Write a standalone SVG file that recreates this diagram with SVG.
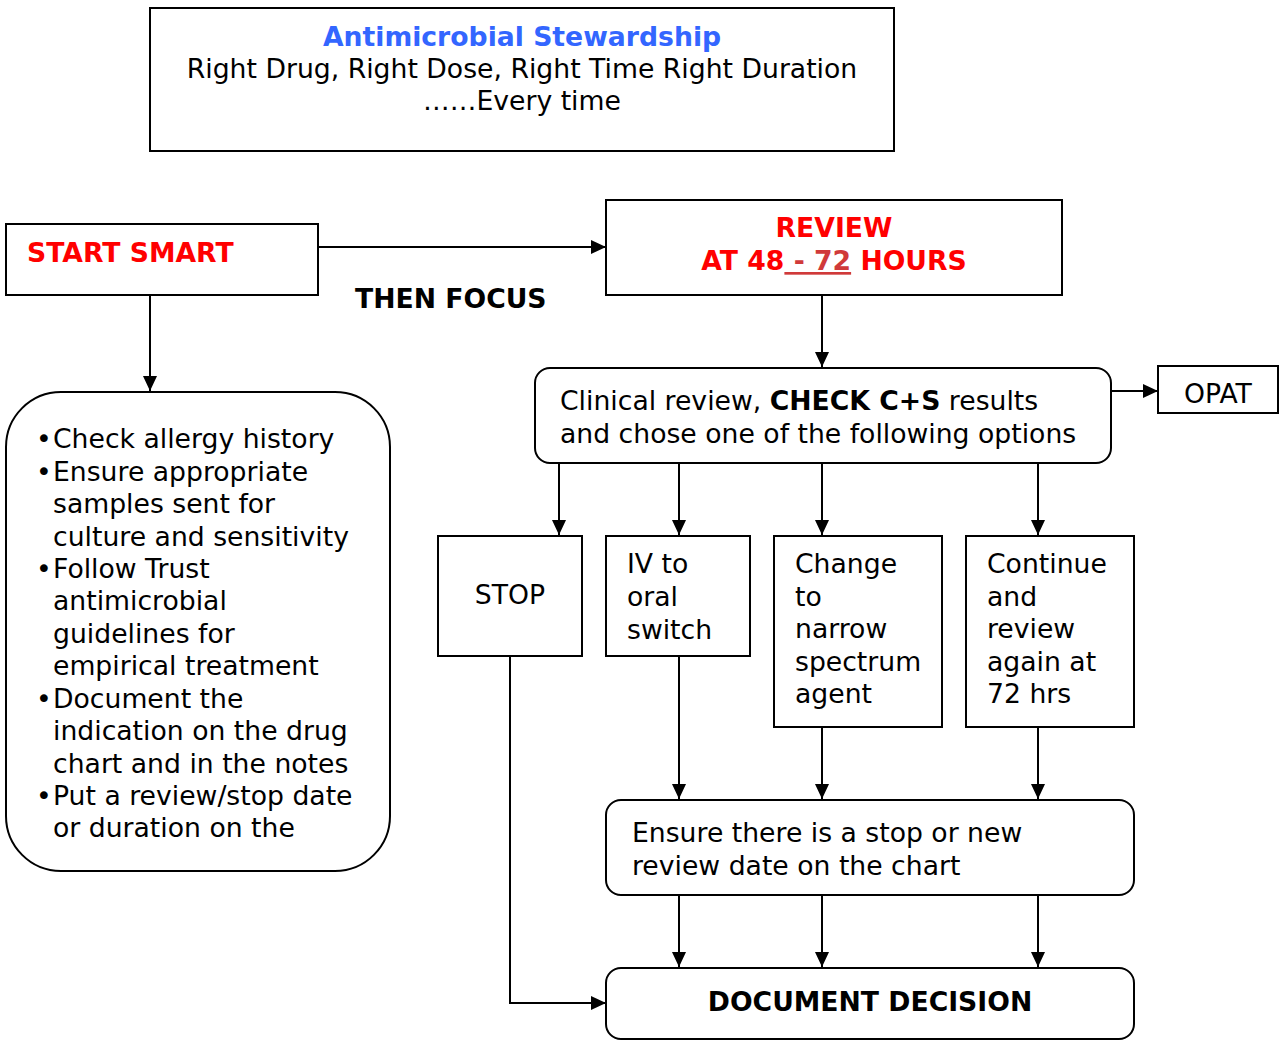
<svg xmlns="http://www.w3.org/2000/svg" width="1279" height="1041" viewBox="0 0 1279 1041">
<style>
  .box { fill: #fff; stroke: #000; stroke-width: 2; }
  .t { font-family: "DejaVu Sans", Verdana, sans-serif; font-size: 26.67px; fill: #000; }
  .b { font-weight: bold; }
  .red { fill: #ff0000; }
  .c { text-anchor: middle; }
  .conn { fill: none; stroke: #000; stroke-width: 2; marker-end: url(#arr); }
</style>
<defs>
  <marker id="arr" viewBox="0 0 15 14" refX="15" refY="7" markerWidth="15" markerHeight="14" markerUnits="userSpaceOnUse" orient="auto">
    <path d="M0,0 L15,7 L0,14 z" fill="#000"/>
  </marker>
</defs>
<rect width="1279" height="1041" fill="#fff"/>

<g id="connectors">
  <path class="conn" d="M318,247 H606"/>
  <path class="conn" d="M150,295 V391"/>
  <path class="conn" d="M822,295 V367"/>
  <path class="conn" d="M1111,391 H1158"/>
  <path class="conn" d="M559,463 V535"/>
  <path class="conn" d="M679,463 V535"/>
  <path class="conn" d="M822,463 V535"/>
  <path class="conn" d="M1038,463 V535"/>
  <path class="conn" d="M679,656 V799"/>
  <path class="conn" d="M822,727 V799"/>
  <path class="conn" d="M1038,727 V799"/>
  <path class="conn" d="M679,895 V967"/>
  <path class="conn" d="M822,895 V967"/>
  <path class="conn" d="M1038,895 V967"/>
  <path class="conn" d="M510,656 V1003 H606"/>
</g>

<g id="title">
  <rect class="box" x="150" y="8" width="744" height="143"/>
  <text class="t b c" x="522" y="46" style="fill:#3366ff">Antimicrobial Stewardship</text>
  <text class="t c" x="522" y="78">Right Drug, Right Dose, Right Time Right Duration</text>
  <text class="t c" x="522" y="110">……Every time</text>
</g>

<g id="start-smart">
  <rect class="box" x="6" y="224" width="312" height="71"/>
  <text class="t b red" x="27" y="262">START SMART</text>
</g>

<g id="then-focus">
  <text class="t b" x="355" y="308">THEN FOCUS</text>
</g>

<g id="review">
  <rect class="box" x="606" y="200" width="456" height="95"/>
  <text class="t b red c" x="834" y="237">REVIEW</text>
  <text class="t b red c" x="834" y="270">AT 48<tspan style="fill:#d03a3a;text-decoration:underline"> - 72</tspan> HOURS</text>
</g>

<g id="start-list">
  <rect class="box" x="6" y="392" width="384" height="479" rx="55" ry="55"/>
  <g class="t">
    <text x="36" y="448">•</text><text x="53" y="448">Check allergy history</text>
    <text x="36" y="481">•</text><text x="53" y="481">Ensure appropriate</text>
    <text x="53" y="513">samples sent for</text>
    <text x="53" y="546">culture and sensitivity</text>
    <text x="36" y="578">•</text><text x="53" y="578">Follow Trust</text>
    <text x="53" y="610">antimicrobial</text>
    <text x="53" y="643">guidelines for</text>
    <text x="53" y="675">empirical treatment</text>
    <text x="36" y="708">•</text><text x="53" y="708">Document the</text>
    <text x="53" y="740">indication on the drug</text>
    <text x="53" y="773">chart and in the notes</text>
    <text x="36" y="805">•</text><text x="53" y="805">Put a review/stop date</text>
    <text x="53" y="837">or duration on the</text>
  </g>
</g>

<g id="clinical-review">
  <rect class="box" x="535" y="368" width="576" height="95" rx="15" ry="15"/>
  <text class="t" x="560" y="410">Clinical review, <tspan class="b">CHECK C+S</tspan> results</text>
  <text class="t" x="560" y="443">and chose one of the following options</text>
</g>

<g id="opat">
  <rect class="box" x="1158" y="366" width="120" height="47"/>
  <text class="t c" x="1218" y="403">OPAT</text>
</g>

<g id="stop">
  <rect class="box" x="438" y="536" width="144" height="120"/>
  <text class="t c" x="510" y="604">STOP</text>
</g>

<g id="iv-oral">
  <rect class="box" x="606" y="536" width="144" height="120"/>
  <text class="t" x="627" y="573">IV to</text>
  <text class="t" x="627" y="606">oral</text>
  <text class="t" x="627" y="639">switch</text>
</g>

<g id="narrow">
  <rect class="box" x="774" y="536" width="168" height="191"/>
  <text class="t" x="795" y="573">Change</text>
  <text class="t" x="795" y="606">to</text>
  <text class="t" x="795" y="638">narrow</text>
  <text class="t" x="795" y="671">spectrum</text>
  <text class="t" x="795" y="703">agent</text>
</g>

<g id="continue">
  <rect class="box" x="966" y="536" width="168" height="191"/>
  <text class="t" x="987" y="573">Continue</text>
  <text class="t" x="987" y="606">and</text>
  <text class="t" x="987" y="638">review</text>
  <text class="t" x="987" y="671">again at</text>
  <text class="t" x="987" y="703">72 hrs</text>
</g>

<g id="ensure">
  <rect class="box" x="606" y="800" width="528" height="95" rx="15" ry="15"/>
  <text class="t" x="632" y="842">Ensure there is a stop or new</text>
  <text class="t" x="632" y="875">review date on the chart</text>
</g>

<g id="document">
  <rect class="box" x="606" y="968" width="528" height="71" rx="15" ry="15"/>
  <text class="t b c" x="870" y="1011">DOCUMENT DECISION</text>
</g>
</svg>
